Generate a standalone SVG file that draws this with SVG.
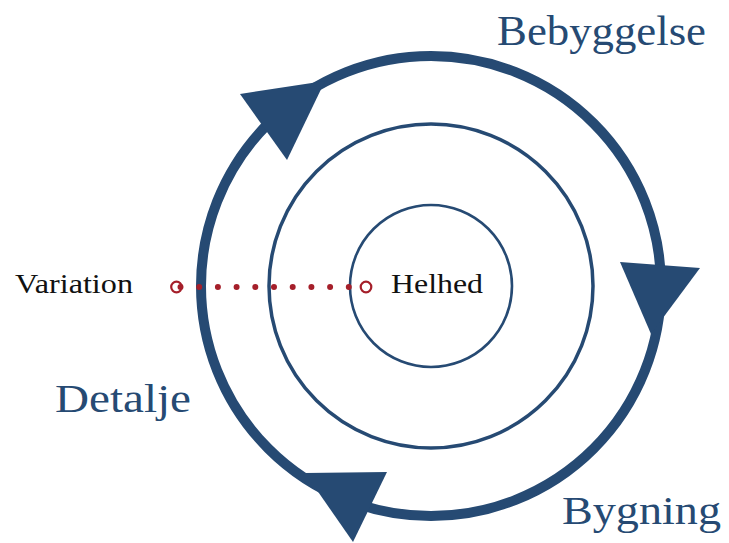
<svg xmlns="http://www.w3.org/2000/svg" width="729" height="543" viewBox="0 0 729 543">
  <style>
    .ring { fill: none; stroke: #264a73; }
    .head { fill: #264a73; }
    .label { font-family: "Liberation Serif", "Times New Roman", serif; }
    .blue { fill: #264a73; }
    .black { fill: #111111; }
    .red { stroke: #a51f2a; }
  </style>

  <rect width="729" height="543" fill="#ffffff"/>

  <!-- concentric rings -->
  <g id="outer-cycle">
    <circle class="ring" cx="431" cy="286" r="230" stroke-width="10"/>
  </g>
  <g id="middle-ring">
    <circle class="ring" cx="431" cy="286" r="162" stroke-width="3.5"/>
  </g>
  <g id="inner-ring">
    <circle class="ring" cx="431" cy="286" r="81" stroke-width="2.6"/>
  </g>

  <!-- clockwise arrowheads on the outer cycle, plus the dotted scale line -->
  <g id="connectors">
    <polygon class="head" points="240,94 325,81 287,160"/>
    <polygon class="head" points="620,262 700,268 651,334"/>
    <polygon class="head" points="305,473 387,472 353,542"/>

    <line class="red" x1="180.5" y1="287" x2="349" y2="287" stroke-width="6" stroke-linecap="round" stroke-dasharray="0 18.7"/>
    <circle cx="176.5" cy="287" r="5.3" fill="none" stroke="#a51f2a" stroke-width="2.2"/>
    <circle cx="366" cy="287" r="5.3" fill="#ffffff" stroke="#a51f2a" stroke-width="2.2"/>
  </g>

  <g id="bebyggelse">
    <text class="label blue" x="497" y="45" font-size="42" textLength="209" lengthAdjust="spacingAndGlyphs">Bebyggelse</text>
  </g>
  <g id="detalje">
    <text class="label blue" x="55" y="412" font-size="41" textLength="136" lengthAdjust="spacingAndGlyphs">Detalje</text>
  </g>
  <g id="bygning">
    <text class="label blue" x="562" y="524" font-size="41" textLength="159" lengthAdjust="spacingAndGlyphs">Bygning</text>
  </g>
  <g id="variation">
    <text class="label black" x="15" y="293" font-size="28" textLength="118" lengthAdjust="spacingAndGlyphs">Variation</text>
  </g>
  <g id="helhed">
    <text class="label black" x="391" y="293" font-size="28" textLength="92" lengthAdjust="spacingAndGlyphs">Helhed</text>
  </g>
</svg>
